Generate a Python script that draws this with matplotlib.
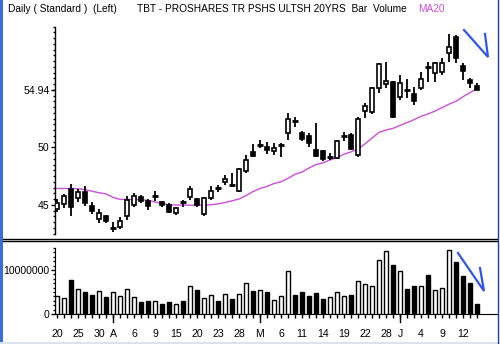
import matplotlib
matplotlib.use("Agg")
import matplotlib.pyplot as plt
from matplotlib.lines import Line2D
from matplotlib.patches import Rectangle

# ---- daily bars (TBT, 20 Mar - 16 Jun 2009) ----
dates = ["Mar20", "Mar23", "Mar24", "Mar25", "Mar26", "Mar27", "Mar30", "Mar31",
         "Apr01", "Apr02", "Apr03", "Apr06", "Apr07", "Apr08", "Apr09", "Apr13",
         "Apr14", "Apr15", "Apr16", "Apr17", "Apr20", "Apr21", "Apr22", "Apr23",
         "Apr24", "Apr27", "Apr28", "Apr29", "Apr30", "May01", "May04", "May05",
         "May06", "May07", "May08", "May11", "May12", "May13", "May14", "May15",
         "May18", "May19", "May20", "May21", "May22", "May26", "May27", "May28",
         "May29", "Jun01", "Jun02", "Jun03", "Jun04", "Jun05", "Jun08", "Jun09",
         "Jun10", "Jun11", "Jun12", "Jun15", "Jun16"]

opens = [44.61, 45.04, 46.37, 45.58, 46.14, 44.90, 43.74, 44.03, 42.94, 43.10,
         44.03, 45.00, 45.70, 45.36, 45.76, 45.24, 44.98, 44.31, 45.29, 45.65,
         45.48, 44.20, 45.57, 46.58, 47.01, 46.74, 46.23, 47.97, 49.62, 50.18,
         50.00, 49.70, 50.18, 51.27, 52.31, 51.22, 50.98, 49.77, 49.68, 49.08,
         49.04, 50.96, 51.07, 49.33, 53.18, 53.10, 55.13, 55.48, 55.70, 54.40,
         55.00, 54.60, 55.13, 57.00, 56.43, 56.57, 58.17, 59.62, 57.10, 55.85,
         55.33]
highs = [45.50, 45.94, 46.80, 46.37, 46.66, 45.26, 44.60, 44.11, 43.48, 43.97,
         45.77, 46.05, 45.88, 45.48, 46.20, 45.36, 45.13, 44.84, 45.42, 46.63,
         45.57, 45.70, 46.63, 46.72, 47.59, 47.74, 48.17, 49.33, 50.26, 50.63,
         50.50, 50.40, 50.35, 52.96, 52.66, 51.42, 51.27, 52.09, 49.77, 49.53,
         50.63, 51.36, 51.22, 52.66, 53.88, 55.27, 57.35, 57.44, 55.79, 56.28,
         55.91, 55.27, 56.54, 57.38, 57.44, 57.73, 59.83, 59.77, 57.30, 56.00,
         55.56]
lows = [44.37, 44.70, 44.05, 45.22, 44.90, 44.20, 43.44, 43.39, 42.60, 42.87,
        43.68, 44.80, 45.13, 44.55, 45.36, 44.78, 44.25, 44.11, 44.84, 45.42,
        44.84, 44.03, 45.42, 46.14, 46.72, 46.58, 46.14, 47.74, 49.18, 49.97,
        49.40, 49.33, 49.18, 50.63, 51.79, 50.58, 50.00, 49.18, 48.81, 48.90,
        48.96, 50.58, 49.77, 49.18, 52.52, 52.90, 54.70, 55.19, 52.52, 54.10,
        54.27, 53.68, 54.98, 55.70, 55.70, 56.28, 57.44, 57.30, 55.85, 55.13,
        54.94]
closes = [45.13, 45.75, 44.83, 46.10, 45.18, 44.49, 44.31, 43.62, 42.97, 43.59,
          45.40, 45.80, 45.33, 44.90, 45.78, 44.95, 44.40, 44.70, 45.26, 46.35,
          44.98, 45.57, 46.23, 46.45, 47.22, 46.70, 48.09, 48.90, 49.27, 50.22,
          49.77, 49.91, 50.22, 52.43, 52.27, 50.75, 50.35, 49.27, 48.96, 49.12,
          50.55, 51.00, 49.85, 52.43, 53.59, 55.13, 57.24, 55.79, 52.66, 55.61,
          54.96, 54.02, 55.96, 56.95, 57.30, 57.30, 58.75, 57.74, 56.60, 55.56,
          54.94]
volumes = [4.06e6, 3.7e6, 7.7e6, 5.7e6, 5.0e6, 4.4e6, 5.2e6, 3.9e6, 5.0e6, 4.1e6,
           5.6e6, 3.8e6, 2.8e6, 2.9e6, 2.9e6, 2.3e6, 2.8e6, 2.3e6, 2.9e6, 6.3e6,
           5.5e6, 3.6e6, 4.3e6, 3.0e6, 4.5e6, 3.5e6, 4.5e6, 7.0e6, 5.3e6, 5.5e6,
           4.9e6, 3.2e6, 4.1e6, 9.8e6, 4.4e6, 5.0e6, 4.1e6, 4.8e6, 3.5e6, 3.9e6,
           5.0e6, 4.1e6, 4.4e6, 7.5e6, 6.8e6, 6.4e6, 12.3e6, 14.3e6, 11.1e6, 9.8e6,
           5.7e6, 6.4e6, 6.4e6, 8.9e6, 5.5e6, 5.9e6, 14.5e6, 11.9e6, 8.6e6, 7.1e6,
           2.3e6]
ma20 = [46.42, 46.42, 46.42, 46.40, 46.32, 46.18, 46.05, 45.95, 45.65, 45.47,
        45.47, 45.46, 45.45, 45.38, 45.25, 45.12, 45.00, 44.98, 44.97, 44.97,
        44.97, 44.98, 45.00, 45.08, 45.20, 45.35, 45.50, 45.80, 46.15, 46.42,
        46.60, 46.85, 47.00, 47.30, 47.65, 47.85, 48.20, 48.50, 48.65, 48.90,
        49.10, 49.40, 49.60, 49.85, 50.30, 50.80, 51.30, 51.50, 51.65, 51.90,
        52.15, 52.40, 52.70, 52.90, 53.15, 53.45, 53.75, 54.00, 54.40, 54.75,
        55.10]

# x-axis labels (bar index -> text) and month starts
date_ticks = [0, 3, 6, 8, 11, 14, 17, 20, 23, 26, 29, 32, 35, 38, 41, 44, 47,
              49, 52, 55, 58]
date_labels = ["20", "25", "30", "A", "6", "9", "15", "20", "23", "28", "M",
               "6", "11", "14", "19", "22", "28", "J", "4", "9", "12"]
month_starts = [8, 29, 49]

price_ticks = [45, 50, 54.94]
price_labels = ["45", "50", "54.94"]
vol_ticks = [0, 1e7]
vol_labels = ["0", "10000000"]

FONT = "Liberation Sans"
MA_COLOR = "#cc4fd8"
W, H = 500, 344
PX = 72.0 / 100  # points per pixel

fig = plt.figure(figsize=(W / 100, H / 100), dpi=100)
fig.patch.set_facecolor("white")


def rect(x0, y0, x1, y1):
    return [x0 / W, 1 - y1 / H, (x1 - x0) / W, (y1 - y0) / H]


X0, X1 = 55, 497
xlim = ((X0 - 57) / 7.0, (X1 - 57) / 7.0)

# ---- price panel ----
ax = fig.add_axes(rect(X0, 17, X1, 237))
ax.set_xlim(*xlim)
ax.set_ylim(50 - (237 - 147.3) / 11.5, 50 - (17 - 147.3) / 11.5)
for s in ["top", "right", "bottom"]:
    ax.spines[s].set_visible(False)
ax.spines["left"].set_bounds(42.5, 60.5)
ax.spines["left"].set_linewidth(1.0)
ax.set_xticks([])
ax.set_yticks(price_ticks)
ax.set_yticklabels(price_labels, fontfamily=FONT, fontsize=7.6)
ax.set_yticks([42.5 + 0.5 * k for k in range(37)], minor=True)
ax.tick_params(axis="y", which="major", length=4 * PX, width=1, pad=1)
ax.tick_params(axis="y", which="minor", length=2 * PX, width=1)

bw = 0.62
for i, (o, h, l, c) in enumerate(zip(opens, highs, lows, closes)):
    ax.plot([i, i], [l, h], color="black", lw=1.3, solid_capstyle="butt", zorder=2)
    lo, hi = min(o, c), max(o, c)
    if hi - lo < 0.15:
        ax.plot([i - bw / 2 - 0.05, i + bw / 2 + 0.05], [c, c], color="black",
                lw=2.0, solid_capstyle="butt", zorder=3)
    else:
        face = "white" if c > o else "black"
        ax.add_patch(Rectangle((i - bw / 2, lo), bw, hi - lo, facecolor=face,
                               edgecolor="black", lw=1.2, zorder=3))

ax.plot(range(len(ma20)), ma20, color=MA_COLOR, lw=1.0, zorder=1)

# ---- volume panel ----
vx = fig.add_axes(rect(X0, 242, X1, 314))
vx.set_xlim(*xlim)
vx.set_ylim(0, (314 - 242) / 4.4e-6)
for s in ["top", "right"]:
    vx.spines[s].set_visible(False)
vx.spines["left"].set_bounds(0, 15e6)
vx.set_yticks(vol_ticks)
vx.set_yticklabels(vol_labels, fontfamily=FONT, fontsize=7.6)
vx.set_yticks([k * 1e6 for k in range(16)], minor=True)
vx.tick_params(axis="y", which="major", length=4 * PX, width=1, pad=1)
vx.tick_params(axis="y", which="minor", length=2 * PX, width=1)
vx.set_xticks(date_ticks)
vx.set_xticklabels(date_labels, fontfamily=FONT, fontsize=7.6)
vx.set_xticks(range(len(volumes)), minor=True)
vx.tick_params(axis="x", which="major", length=4 * PX, width=1, pad=8)
vx.tick_params(axis="x", which="minor", length=4 * PX, width=1)

for i, v in enumerate(volumes):
    face = "white" if closes[i] >= opens[i] else "black"
    vx.add_patch(Rectangle((i - 0.33, 0), 0.66, v, facecolor=face,
                           edgecolor="black", lw=1.0, zorder=3))

for m in month_starts:
    vx.add_line(Line2D([m, m], [0, -8 / 4.4e-6], color="black", lw=1.0,
                       clip_on=False))

# ---- annotation arrows (hand-drawn checks) ----
def px_line(pts, **kw):
    xs = [p[0] / W for p in pts]
    ys = [1 - p[1] / H for p in pts]
    fig.add_artist(Line2D(xs, ys, transform=fig.transFigure, **kw))

px_line([(464, 30), (488, 57), (485, 34)], color="#2f55f0", lw=1.6,
        solid_joinstyle="miter")
px_line([(458, 253), (484, 291), (480, 268)], color="#2f55f0", lw=1.6,
        solid_joinstyle="miter")

# ---- panel separators and frame ----
px_line([(3, 238.5), (497, 238.5)], color="black", lw=1.0)
px_line([(3, 241), (497, 241)], color="black", lw=1.0)
fig.add_artist(Rectangle((0, 0), 3 / W, 1, transform=fig.transFigure,
                         facecolor="#3a6fd8", edgecolor="none"))
fig.add_artist(Rectangle((0, 0), 1, 2.5 / H, transform=fig.transFigure,
                         facecolor="#dde3ea", edgecolor="none"))
px_line([(497.5, 0), (497.5, 344)], color="#1c3fa8", lw=1.0)

# ---- header ----
fig.text(8 / W, 1 - 9 / H, "Daily ( Standard )  (Left)", fontfamily=FONT,
         fontsize=7.3, va="center", ha="left")
fig.text(137 / W, 1 - 9 / H, "TBT - PROSHARES TR PSHS ULTSH 20YRS  Bar  Volume",
         fontfamily=FONT, fontsize=7.3, va="center", ha="left")
fig.text(418 / W, 1 - 9 / H, "MA20", fontfamily=FONT, fontsize=7.3,
         va="center", ha="left", color=MA_COLOR)

fig.savefig("out.png", dpi=100, facecolor="white")
